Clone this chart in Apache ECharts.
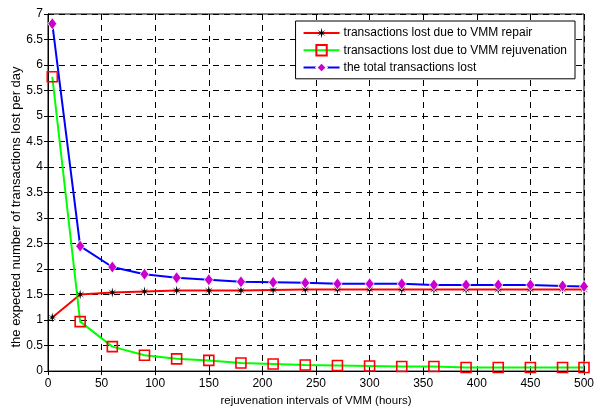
<!DOCTYPE html>
<html>
<head>
<meta charset="utf-8">
<script src="https://cdn.jsdelivr.net/npm/echarts@6/dist/echarts.min.js"></script>
<style>
  html, body { margin: 0; padding: 0; background: #fff; }
  #chart { width: 597px; height: 412px; }
</style>
</head>
<body>
<div id="chart"></div>
<script>
// rejuvenation intervals (hours)
var intervals = [4, 30, 60, 90, 120, 150, 180, 210, 240, 270, 300, 330, 360, 390, 420, 450, 480, 500];
var lostRepair = [1.05, 1.50, 1.54, 1.56, 1.58, 1.58, 1.58, 1.59, 1.60, 1.60, 1.60, 1.60, 1.60, 1.60, 1.60, 1.60, 1.60, 1.60];
var lostRejuv = [5.77, 0.97, 0.48, 0.31, 0.24, 0.21, 0.16, 0.14, 0.12, 0.11, 0.10, 0.09, 0.09, 0.07, 0.07, 0.07, 0.07, 0.07];
var lostTotal = [6.81, 2.45, 2.04, 1.90, 1.83, 1.79, 1.75, 1.74, 1.73, 1.71, 1.71, 1.71, 1.69, 1.69, 1.69, 1.69, 1.67, 1.66];
var seriesNames = [
    "transactions lost due to VMM repair",
    "transactions lost due to VMM rejuvenation",
    "the total transactions lost"
];
var yTitle = "the expected number of transactions lost per day";
var xTitle = "rejuvenation intervals of VMM (hours)";

function pairs(xs, ys) {
    return xs.map(function (x, i) { return [x, ys[i]]; });
}

var chart = echarts.init(document.getElementById("chart"));
var font = "Liberation Sans, Arial, sans-serif";
var dashed = { show: true, lineStyle: { color: "#000", type: [6, 5], width: 1 } };
var starPath = "path://M0,-6 L1,-1.2 L5,-4 L1.4,-0.2 L6,0 L1.4,0.3 L5,4 L1,1.2 L0,6 L-1,1.2 L-5,4 L-1.4,0.3 L-6,0 L-1.4,-0.2 L-5,-4 L-1,-1.2 Z";

var option = {
    animation: false,
    textStyle: { fontFamily: font },
    grid: {
        left: 48, right: 10, top: 14, bottom: 35,
        show: true, borderColor: "#000", borderWidth: 1
    },
    // y title sits a bit below the plot centre in the original
    graphic: [{
        type: "text",
        x: 16, y: 207,
        rotation: Math.PI / 2,
        style: {
            text: yTitle,
            fill: "#000",
            font: "13px " + font,
            align: "center",
            verticalAlign: "middle"
        }
    }],
    legend: {
        orient: "vertical",
        right: 22, top: 21,
        padding: [6, 8, 5, 7],
        itemGap: 5,
        itemWidth: 36, itemHeight: 13,
        borderColor: "#000", borderWidth: 1,
        backgroundColor: "#fff",
        textStyle: { fontSize: 12, color: "#000", fontFamily: font, padding: [0, 0, 0, -1] },
        data: seriesNames
    },
    xAxis: [{
        type: "value",
        min: 0, max: 500, interval: 50,
        name: xTitle,
        nameLocation: "middle", nameGap: 23,
        nameTextStyle: { fontSize: 11.5, color: "#000" },
        axisLine: { lineStyle: { color: "#000" } },
        axisTick: { inside: true, length: 4, lineStyle: { color: "#000" } },
        axisLabel: { fontSize: 12, color: "#000", margin: 7 },
        splitLine: dashed
    }, {
        type: "value", position: "top",
        min: 0, max: 500, interval: 50,
        axisLine: { lineStyle: { color: "#000" } },
        axisTick: { inside: true, length: 4, lineStyle: { color: "#000" } },
        axisLabel: { show: false },
        splitLine: { show: false }
    }],
    yAxis: [{
        type: "value",
        min: 0, max: 7, interval: 0.5,
        axisLine: { show: true, lineStyle: { color: "#000" } },
        axisTick: { show: true, inside: true, length: 4, lineStyle: { color: "#000" } },
        axisLabel: { fontSize: 12, color: "#000", margin: 5 },
        splitLine: dashed
    }, {
        type: "value", position: "right",
        min: 0, max: 7, interval: 0.5,
        axisLine: { show: true, lineStyle: { color: "#000" } },
        axisTick: { show: true, inside: true, length: 4, lineStyle: { color: "#000" } },
        axisLabel: { show: false },
        splitLine: { show: false }
    }],
    series: [
        {
            name: seriesNames[0],
            type: "line",
            data: pairs(intervals, lostRepair),
            symbol: starPath,
            symbolSize: 10,
            lineStyle: { color: "#ff0000", width: 2 },
            itemStyle: { color: "#000" }
        },
        {
            name: seriesNames[1],
            type: "line",
            data: pairs(intervals, lostRejuv),
            symbol: "rect",
            symbolSize: 10,
            lineStyle: { color: "#00ff00", width: 2 },
            itemStyle: { color: "rgba(0,0,0,0)", borderColor: "#ff0000", borderWidth: 1.6 }
        },
        {
            name: seriesNames[2],
            type: "line",
            data: pairs(intervals, lostTotal),
            symbol: "diamond",
            symbolSize: [9, 12],
            lineStyle: { color: "#0000ff", width: 2 },
            itemStyle: { color: "#cc00cc", borderColor: "#fff", borderWidth: 0.8 }
        }
    ]
};
chart.setOption(option);
</script>
</body>
</html>
